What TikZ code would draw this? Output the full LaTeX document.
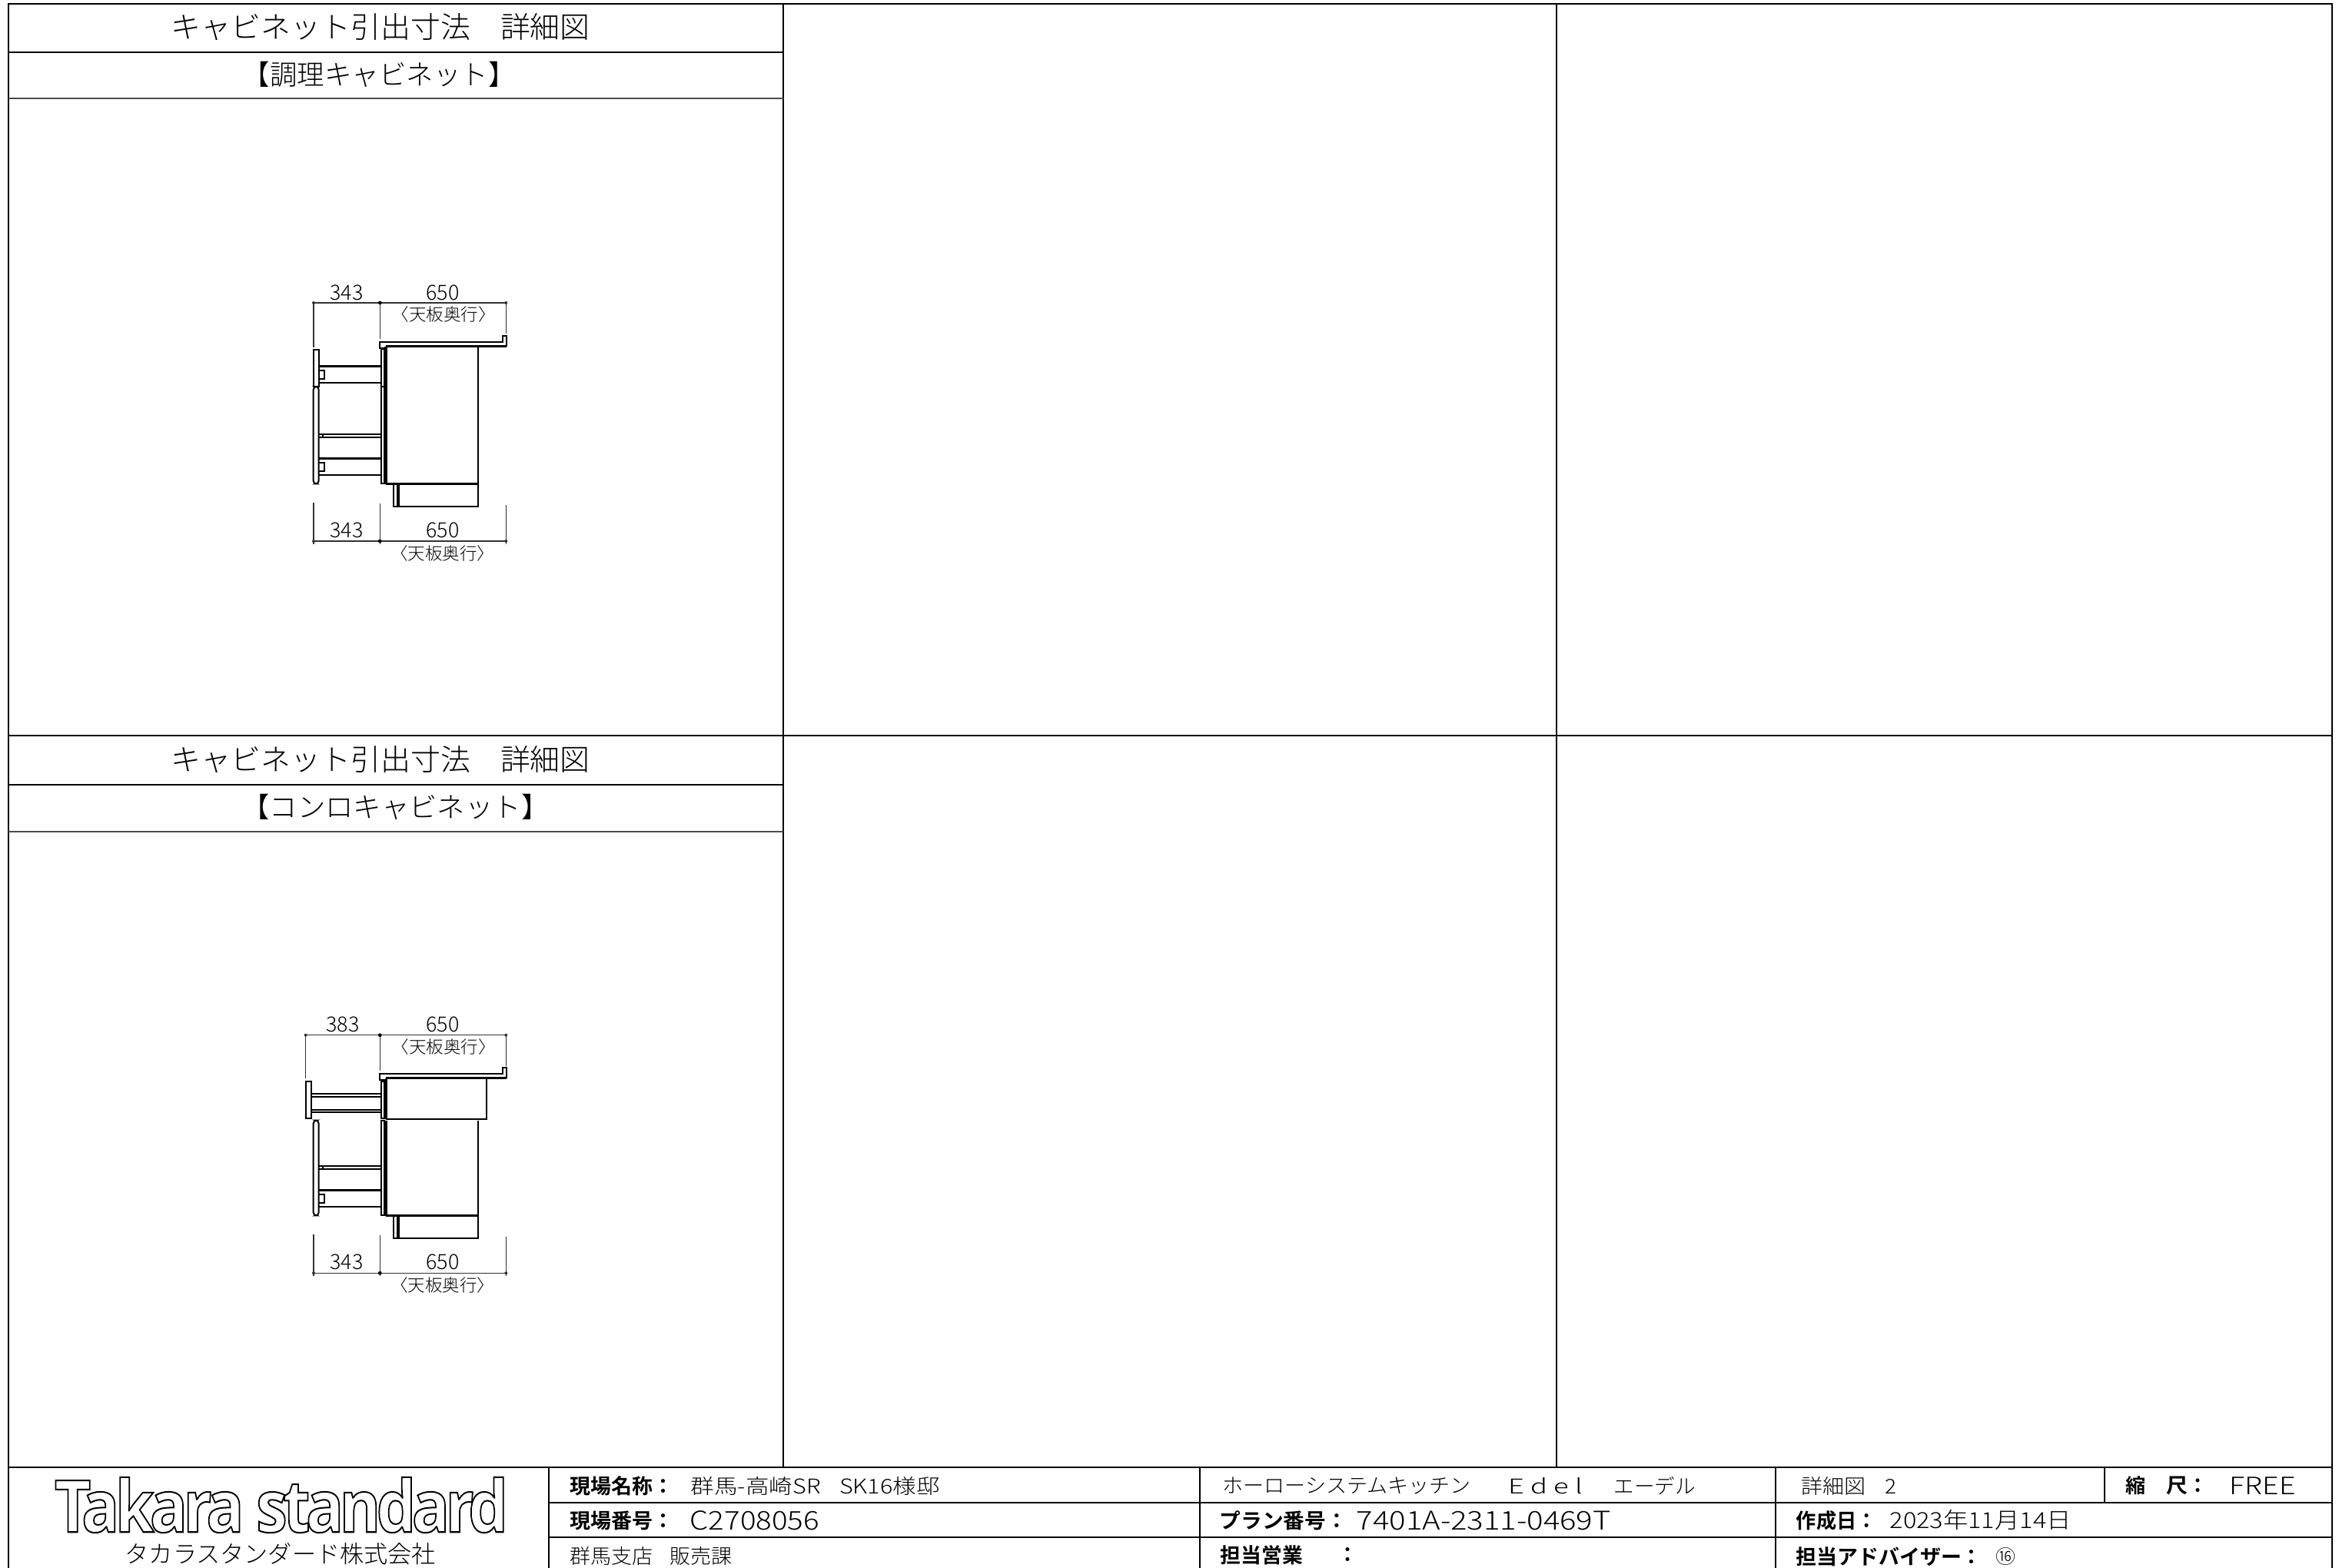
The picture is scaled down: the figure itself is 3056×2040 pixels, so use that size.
\documentclass[tikz,border=0pt]{standalone}
\usepackage{fontspec}
\usepackage{graphicx}
\newfontfamily\cj{Noto Sans CJK JP Light}[BoldFont={Noto Sans CJK JP Bold}]
\newfontfamily\logofont{Open Sans Bold}[LetterSpace=-7]
\newlength{\unitpx}\setlength{\unitpx}{0.25pt}
% west-anchored text of given width: [opts]{name}{x}{y}{size}{width}{text}
\newcommand{\lw}[7][]{\node[inner sep=0pt,anchor=west,#1] (#2) at (#3,-#4) {\resizebox{#6\unitpx}{\height}{\fontsize{#5}{#5}\selectfont\cj #7}};}
% centred text of given width
\newcommand{\lc}[6]{\node[inner sep=0pt,anchor=center] (#1) at (#2,-#3) {\resizebox{#5\unitpx}{\height}{\fontsize{#4}{#4}\selectfont\cj #6}};}
\tikzset{thinl/.style={draw=black,line width=0.5pt},thickl/.style={draw=black,line width=0.85pt},
 dim/.style={draw=black!80,line width=0.32pt},grid/.style={draw=black,line width=0.4pt},
 tb/.style={draw=black,line width=0.5pt}}
% shared lower cabinet and counter: {y shift}{top y of lower fronts}
\newcommand{\cab}[2]{%
\begin{scope}[yshift=-#1*0.25pt]
\draw[thinl] (496,-#2) -- (500,-#2) -- (500,-629) -- (496,-629) -- cycle;
\draw[thinl,rounded corners=1pt] (407.7,-#2) -- (414.7,-#2) -- (414.7,-629.5) -- (407.7,-629.5) -- cycle;
\draw[thickl] (414.7,-596.7) -- (496,-596.7);
\draw[thinl] (414.7,-618.3) -- (496,-618.3);
\draw[thinl] (414.7,-565) -- (496,-565);
\draw[thinl] (414.7,-569.3) -- (496,-569.3);
\draw[thinl] (420,-565) -- (420,-569.3);
\draw[thinl] (414.7,-602) -- (421.7,-602) -- (421.7,-613) -- (414.7,-613);
\draw[thickl] (502,-629.5) -- (622,-629.5);
\draw[thinl] (512,-630) -- (512,-659) -- (622,-659) -- (622,-630);
\draw[thickl] (518,-630) -- (518,-659);
\draw[thickl] (502,-#2) -- (502,-630);
\draw[thinl] (622,-#2) -- (622,-630);
\draw[thinl] (494,-445.3) -- (654,-445.3) -- (654,-437.5) -- (658.7,-437.5) -- (658.7,-450.5) -- (502.5,-450.5) -- (502.5,-453.5) -- (494,-453.5) -- cycle;
\draw[thickl] (502.5,-450.5) -- (658.7,-450.5);
\end{scope}}
% dimension: {prefix}{left x}{y}{y of left ext end}{y mid}{y right}{y overshoot}
\newcommand{\dimn}[7]{%
\coordinate (#1a) at (#2,-#3);\coordinate (#1b) at (494.3,-#3);\coordinate (#1c) at (658.3,-#3);
\coordinate (#1ae) at (#2,-#4);\coordinate (#1be) at (494.3,-#5);\coordinate (#1ce) at (658.3,-#6);
\draw[dim] (#1a) -- (#1b) -- (#1c);
\draw[dim] (#1a) ++(0,#7) -- (#1ae);
\draw[dim] (#1b) ++(0,#7) -- (#1be);
\draw[dim] (#1c) ++(0,#7) -- (#1ce);
\fill[black!80] (#1a) circle (0.5pt) (#1c) circle (0.5pt);
\fill[black] (#1b) circle (0.6pt);
}
\begin{document}
\begin{tikzpicture}[x=0.25pt,y=0.25pt]
\useasboundingbox (0,0) rectangle (3056,-2040);
% frame
\draw[grid,line width=0.55pt] (11,-2040) -- (11,-5) -- (3034,-5) -- (3034,-2040);
\draw[grid] (1019,-5) -- (1019,-1909);
\draw[grid] (2025,-5) -- (2025,-1909);
\draw[grid] (11,-957) -- (3034,-957);
\draw[grid] (11,-68) -- (1019,-68);
\draw[grid,draw=black!70] (11,-128) -- (1019,-128);
\draw[grid] (11,-1021) -- (1019,-1021);
\draw[grid,draw=black!70] (11,-1082) -- (1019,-1082);
% title block
\draw[tb] (11,-1909) -- (3034,-1909);
\draw[tb] (714,-1909) -- (714,-2040);
\draw[tb] (1561,-1909) -- (1561,-2040);
\draw[tb] (2310,-1909) -- (2310,-2040);
\draw[tb] (2738,-1909) -- (2738,-1955);
\draw[tb] (714,-1955) -- (3034,-1955);
\draw[tb] (714,-2000) -- (3034,-2000);
% headings
\lw{t1}{222}{35}{9.6}{545}{キャビネット引出寸法　詳細図}
\lw{t2}{315}{97}{9}{355}{【調理キャビネット】}
\lw{t3}{222}{988}{9.6}{545}{キャビネット引出寸法　詳細図}
\lw{t4}{313.6}{1050}{9}{400}{【コンロキャビネット】}
% upper drawing
\cab{0}{503}
\draw[thinl] (496,-454) rectangle (500,-503);
\draw[thinl] (407.7,-455) rectangle (414.7,-503);
\draw[thickl] (414.7,-476.7) -- (496,-476.7);
\draw[thinl] (414.7,-498) -- (496,-498);
\draw[thinl] (414.7,-481.7) -- (421.7,-481.7) -- (421.7,-493.3) -- (414.7,-493.3);
\draw[thickl] (502,-451) -- (502,-503);
\draw[thinl] (622,-451) -- (622,-503);
\dimn{ua}{408}{394}{452}{441}{434}{0}
\dimn{ub}{408}{704}{654}{655}{656.7}{-4}
\lc{d1}{451}{381}{6.8}{43}{343}
\lc{d2}{576}{381}{6.8}{43}{650}
\lc{d3}{577}{409}{5.6}{135}{〈天板奥行〉}
\lc{d4}{451}{690}{6.8}{43}{343}
\lc{d5}{576}{690}{6.8}{43}{650}
\lc{d6}{575.7}{720}{5.6}{135}{〈天板奥行〉}
% lower drawing
\cab{952}{505.7}
\draw[thinl] (397.7,-1406.7) rectangle (405,-1455);
\draw[thinl] (496,-1406.7) rectangle (500,-1455);
\draw[thinl] (405,-1423.3) -- (496,-1423.3);
\draw[thinl] (405,-1426.7) -- (496,-1426.7);
\draw[thinl] (405,-1444) -- (496,-1444);
\draw[thinl] (405,-1446.7) -- (496,-1446.7);
\draw[thinl] (502.7,-1403.3) rectangle (633.3,-1455.7);
\draw[thickl] (502.7,-1403.3) -- (502.7,-1455.7);
\dimn{la}{397.7}{1346.7}{1403}{1393}{1387}{0}
\dimn{lb}{408}{1656.3}{1606}{1607}{1608.7}{-4}
\lc{d7}{446}{1333}{6.8}{43}{383}
\lc{d8}{576}{1333}{6.8}{43}{650}
\lc{d9}{577}{1362}{5.6}{135}{〈天板奥行〉}
\lc{d10}{451}{1642}{6.8}{43}{343}
\lc{d11}{576}{1642}{6.8}{43}{650}
\lc{d12}{575.7}{1672}{5.6}{135}{〈天板奥行〉}
% logo
\node[inner sep=0pt,anchor=center] (logo) at (366,-1958) {\resizebox{590\unitpx}{\height}{\special{pdf:literal direct 1 Tr 0.5 w 0 G}\fontsize{23.5}{23.5}\selectfont\logofont Takara standard\special{pdf:literal direct 0 Tr}}};
\lw{logoj}{162}{2022}{7.8}{404}{タカラスタンダード株式会社}
% row 1
\lw{a1}{741}{1933}{6.7}{135}{\bfseries 現場名称：}
\lw{a2}{898}{1933}{6.6}{324}{群馬-高崎SR\hspace{0.8em}SK16様邸}
\lw{b1}{1590}{1933}{6.6}{323}{ホーローシステムキッチン}
\lw{b2}{1962}{1933}{6.6}{96}{E d e l}
\lw{b3}{2099}{1933}{6.6}{106}{エーデル}
\lw{c1}{2343}{1933}{6.6}{124}{詳細図\hspace{0.9em}2}
\lw{e1}{2765}{1933}{6.4}{26}{\bfseries 縮}
\lw{e2}{2818}{1933}{6.6}{28}{\bfseries 尺}
\lw{e3}{2846}{1933}{6.6}{26}{\bfseries ：}
\lw{e4}{2900}{1933}{7.8}{86}{FREE}
% row 2
\lw{a3}{741}{1978}{6.7}{135}{\bfseries 現場番号：}
\lw{a4}{897}{1978}{8.4}{168}{C2708056}
\lw{b4}{1586}{1978}{6.7}{166}{\bfseries プラン番号：}
\lw{b5}{1764}{1978}{8.4}{331}{7401A-2311-0469T}
\lw{c2}{2336}{1978}{6.7}{105}{\bfseries 作成日：}
\lw{c3}{2458}{1978}{7.2}{236}{2023年11月14日}
% row 3
\lw{a5}{741}{2025}{6.6}{211}{群馬支店\hspace{0.8em}販売課}
\lw{b6}{1587}{2023}{6.7}{107}{\bfseries 担当営業}
\lw{b7}{1740}{2023}{6.7}{26}{\bfseries ：}
\lw{c4}{2336}{2025}{6.7}{242}{\bfseries 担当アドバイザー：}
\lw{c5}{2596}{2025}{6.2}{26}{⑯}
\end{tikzpicture}
\end{document}
